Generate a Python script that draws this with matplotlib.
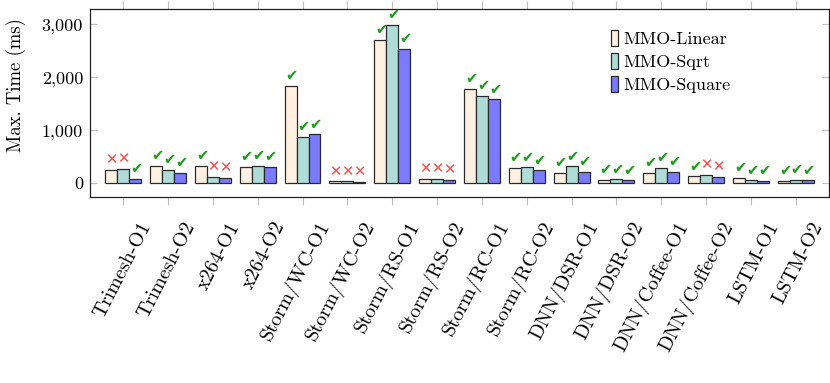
import matplotlib
matplotlib.use("Agg")
import matplotlib.pyplot as plt
import matplotlib.transforms as mtransforms
from matplotlib.ticker import FuncFormatter
import numpy as np

#DATA
benchmarks = ["Trimesh-O1", "Trimesh-O2", "x264-O1", "x264-O2",
              "Storm/WC-O1", "Storm/WC-O2", "Storm/RS-O1", "Storm/RS-O2",
              "Storm/RC-O1", "Storm/RC-O2", "DNN/DSR-O1", "DNN/DSR-O2",
              "DNN/Coffee-O1", "DNN/Coffee-O2", "LSTM-O1", "LSTM-O2"]
series_names = ["MMO-Linear", "MMO-Sqrt", "MMO-Square"]
mmo_linear = [245, 320, 320, 308, 1836, 30, 2711, 75, 1786, 283, 189, 57, 195, 126, 94, 44]
mmo_sqrt = [258, 245, 107, 320, 868, 30, 2994, 75, 1642, 296, 314, 69, 289, 151, 50, 57]
mmo_square = [75, 189, 94, 308, 918, 25, 2541, 57, 1579, 239, 208, 50, 214, 119, 38, 50]
#1 = deadline met (check), 0 = missed (cross)
ok_linear = [0, 1, 1, 1, 1, 0, 1, 0, 1, 1, 1, 1, 1, 1, 1, 1]
ok_sqrt = [0, 1, 0, 1, 1, 0, 1, 0, 1, 1, 1, 1, 1, 0, 1, 1]
ok_square = [1, 1, 0, 1, 1, 0, 1, 0, 1, 1, 1, 1, 1, 0, 1, 1]

#STYLE
plt.rcParams["font.family"] = "serif"
plt.rcParams["font.serif"] = ["cmr10"]
plt.rcParams["mathtext.fontset"] = "cm"
plt.rcParams["axes.formatter.use_mathtext"] = True

colors = ["#fff0e1", "#b0dcd8", "#7b7bff"]
edge = "#2a2a2a"


def draw_bars(ax, x, vals, oks, offset, width, color, label):
    bars = ax.bar(x + offset, vals, width, color=color, edgecolor=edge, linewidth=0.9, label=label)
    for b, ok in zip(bars, oks):
        cx = b.get_x() + b.get_width() / 2
        top = b.get_height()
        if ok:
            ax.annotate("\u2714", (cx, top), xytext=(0.8, 2), textcoords="offset points",
                        ha="center", va="bottom", color="#1e9a1e", fontsize=10.5,
                        family="DejaVu Sans")
        else:
            ax.annotate("\u2715", (cx, top), xytext=(0, 2), textcoords="offset points",
                        ha="center", va="bottom", color="#ff4a4a", fontsize=10.5,
                        family="DejaVu Sans")


def main():
    fig = plt.figure(figsize=(8.3, 3.83), dpi=100)
    ax = fig.add_axes([0.1084, 0.4856, 0.8904, 0.4909])

    x = np.arange(len(benchmarks))
    w = 0.267
    draw_bars(ax, x, mmo_linear, ok_linear, -w, w, colors[0], series_names[0])
    draw_bars(ax, x, mmo_sqrt, ok_sqrt, 0, w, colors[1], series_names[1])
    draw_bars(ax, x, mmo_square, ok_square, w, w, colors[2], series_names[2])

    ax.set_xlim(-0.74, 15.74)
    ax.set_ylim(-265, 3289)
    ax.set_yticks([0, 1000, 2000, 3000])
    ax.yaxis.set_major_formatter(FuncFormatter(lambda v, p: f"{int(v):,}"))
    ax.set_ylabel("Max. Time (ms)", fontsize=13.5)
    ax.yaxis.set_label_coords(-0.086, 0.596)

    ax.set_xticks(x)
    ax.set_xticklabels([])
    ax.tick_params(axis="x", which="both", direction="out", length=6, color="#c0c0c0",
                   top=True, bottom=True, width=0.8)
    ax.tick_params(axis="y", which="both", direction="in", length=5, color="#c0c0c0",
                   left=True, right=True, labelsize=13, width=0.8, pad=5)
    for sp in ax.spines.values():
        sp.set_linewidth(0.9)
        sp.set_color("#222222")

    #rotated benchmark labels, shifted like the pgfplots output
    offs = mtransforms.ScaledTranslation(23 / 100, -26 / 100, fig.dpi_scale_trans)
    trans = ax.get_xaxis_transform() + offs
    for xi, name in zip(x, benchmarks):
        ax.text(xi, 0, name, transform=trans, rotation=63, rotation_mode="anchor",
                ha="right", va="center", fontsize=14.5)

    leg = ax.legend(loc="upper left", bbox_to_anchor=(0.705, 0.89), frameon=False,
                    fontsize=13, handlelength=0.4, handleheight=1.0, handletextpad=0.3,
                    labelspacing=0.32, borderaxespad=0, borderpad=0)
    for h in leg.legend_handles:
        h.set_edgecolor(edge)
        h.set_linewidth(0.9)

    fig.savefig("out.png", dpi=100)


if __name__ == "__main__":
    main()
